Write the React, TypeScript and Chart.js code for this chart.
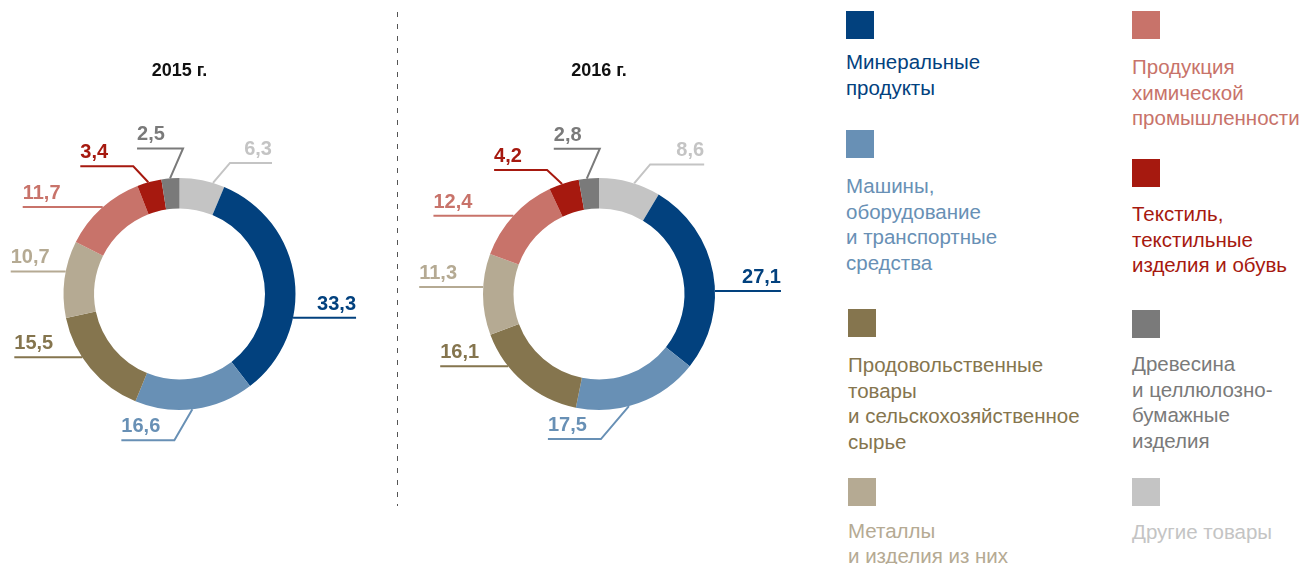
import React, { useEffect, useRef } from "react";
import { Chart, registerables } from "chart.js";

Chart.register(...registerables);

// ---------- DATA ----------
const categories = [
  "Другие товары",
  "Минеральные продукты",
  "Машины, оборудование и транспортные средства",
  "Продовольственные товары и сельскохозяйственное сырье",
  "Металлы и изделия из них",
  "Продукция химической промышленности",
  "Текстиль, текстильные изделия и обувь",
  "Древесина и целлюлозно-бумажные изделия",
];
const values2015 = [6.3, 33.3, 16.6, 15.5, 10.7, 11.7, 3.4, 2.5];
const values2016 = [8.6, 27.1, 17.5, 16.1, 11.3, 12.4, 4.2, 2.8];
const yearTitles = ["2015 г.", "2016 г."];
const legendLines = [
  ["Другие товары"],
  ["Минеральные", "продукты"],
  ["Машины,", "оборудование", "и транспортные", "средства"],
  ["Продовольственные", "товары", "и сельскохозяйственное", "сырье"],
  ["Металлы", "и изделия из них"],
  ["Продукция", "химической", "промышленности"],
  ["Текстиль,", "текстильные", "изделия и обувь"],
  ["Древесина", "и целлюлозно-", "бумажные", "изделия"],
];

// ---------- STYLE / LAYOUT ----------
const colors = [
  "#C4C4C4",
  "#02417E",
  "#6890B5",
  "#85754E",
  "#B5AA93",
  "#C8736A",
  "#A6190F",
  "#7A7A7A",
];
const FONT = '"Liberation Sans", Arial, Helvetica, sans-serif';
const H = 564;
const R = 116;
const CY = 294;
const TITLE_BASELINE = 76;

type LabelLayout = { frac: number; dx: number; dy: number; len: number; side: number };

const layout2015: LabelLayout[] = [
  { frac: 0.74, dx: 17, dy: -20, len: 42, side: 1 },
  { frac: 0.66, dx: 0, dy: 0, len: 63, side: 1 },
  { frac: 0.52, dx: -18, dy: 31, len: 53, side: -1 },
  { frac: 0.62, dx: 0, dy: 0, len: 68, side: -1 },
  { frac: 0.6, dx: 0, dy: 0, len: 55, side: -1 },
  { frac: 0.52, dx: 0, dy: 0, len: 80, side: -1 },
  { frac: 0.46, dx: -15, dy: -16, len: 53, side: -1 },
  { frac: 0.48, dx: 13, dy: -30, len: 46, side: -1 },
];
const layout2016: LabelLayout[] = [
  { frac: 0.57, dx: 16, dy: -19, len: 54, side: 1 },
  { frac: 0.59, dx: 0, dy: 0, len: 66, side: 1 },
  { frac: 0.58, dx: -28, dy: 33, len: 53, side: -1 },
  { frac: 0.69, dx: 0, dy: 0, len: 68, side: -1 },
  { frac: 0.59, dx: 0, dy: 0, len: 64, side: -1 },
  { frac: 0.5, dx: 0, dy: 0, len: 80, side: -1 },
  { frac: 0.44, dx: -15, dy: -14, len: 53, side: -1 },
  { frac: 0.4, dx: 13, dy: -30, len: 46, side: -1 },
];

// legend placement per category index
const legendPos = [
  { x: 1132, sq: 478, text: 518.6 },
  { x: 846, sq: 11, text: 49.3 },
  { x: 846, sq: 130, text: 173 },
  { x: 848, sq: 309, text: 352 },
  { x: 848, sq: 478, text: 517.6 },
  { x: 1132, sq: 11, text: 54.3 },
  { x: 1132, sq: 159, text: 201.3 },
  { x: 1132, sq: 310, text: 351.3 },
];

const fmt = (v: number) => v.toFixed(1).replace(".", ",");

function makePlugin(labels: LabelLayout[], title: string) {
  return {
    id: "leaderLabels",
    afterDatasetsDraw(chart: any) {
      const ctx = chart.ctx as CanvasRenderingContext2D;
      const meta = chart.getDatasetMeta(0);
      const data = chart.data.datasets[0].data as number[];
      ctx.save();
      meta.data.forEach((arc: any, i: number) => {
        const p = arc.getProps(["x", "y", "startAngle", "endAngle", "outerRadius"], true);
        const L = labels[i];
        const a = p.startAngle + L.frac * (p.endAngle - p.startAngle);
        const ax = p.x + Math.cos(a) * p.outerRadius;
        const ay = p.y + Math.sin(a) * p.outerRadius;
        const ex = ax + L.dx;
        const ey = ay + L.dy;
        const hx = ex + L.side * L.len;
        ctx.strokeStyle = colors[i];
        ctx.lineWidth = 2;
        ctx.lineCap = "butt";
        ctx.lineJoin = "miter";
        ctx.beginPath();
        ctx.moveTo(ax, ay);
        ctx.lineTo(ex, ey);
        ctx.lineTo(hx, ey);
        ctx.stroke();
        ctx.fillStyle = colors[i];
        ctx.font = `bold 20px ${FONT}`;
        ctx.textAlign = L.side > 0 ? "right" : "left";
        ctx.textBaseline = "alphabetic";
        ctx.fillText(fmt(data[i]), hx, ey - 8);
      });
      const first = meta.data[0];
      if (first) {
        ctx.fillStyle = "#111";
        ctx.font = `bold 18px ${FONT}`;
        ctx.textAlign = "center";
        ctx.fillText(title, first.x, TITLE_BASELINE);
      }
      ctx.restore();
    },
  };
}

function Donut(props: {
  values: number[];
  labels: LabelLayout[];
  title: string;
  left: number;
  width: number;
  cx: number;
}) {
  const ref = useRef<HTMLCanvasElement | null>(null);
  useEffect(() => {
    if (!ref.current) return;
    const { values, labels, title, width, cx } = props;
    const chart = new Chart(ref.current, {
      type: "doughnut",
      data: {
        labels: categories,
        datasets: [
          {
            data: values,
            backgroundColor: colors,
            borderWidth: 0,
            hoverOffset: 0,
          },
        ],
      },
      options: {
        animation: false,
        responsive: false,
        maintainAspectRatio: false,
        events: [],
        radius: R,
        cutout: "73.7%",
        rotation: 0,
        layout: {
          padding: {
            left: cx - R,
            right: width - cx - R,
            top: CY - R,
            bottom: H - CY - R,
          },
        },
        plugins: {
          legend: { display: false },
          tooltip: { enabled: false },
          title: { display: false },
        },
      } as any,
      plugins: [makePlugin(labels, title)],
    });
    return () => chart.destroy();
  }, []);
  return (
    <canvas
      ref={ref}
      width={props.width}
      height={H}
      style={{ position: "absolute", left: props.left, top: 0, width: props.width, height: H }}
    />
  );
}

export default function App() {
  return (
    <div
      style={{
        position: "absolute",
        left: 0,
        top: 0,
        width: 1304,
        height: H,
        overflow: "hidden",
        background: "#fff",
        fontFamily: FONT,
      }}
    >
      <Donut values={values2015} labels={layout2015} title={yearTitles[0]} left={0} width={398} cx={179.5} />
      <Donut values={values2016} labels={layout2016} title={yearTitles[1]} left={398} width={420} cx={201} />
      <div
        style={{
          position: "absolute",
          left: 397,
          top: 12,
          width: 1,
          height: 494,
          backgroundImage: "repeating-linear-gradient(to bottom, #555 0px, #555 5px, transparent 5px, transparent 12px)",
        }}
      />
      {legendLines.map((lines, i) => {
        const pos = legendPos[i];
        return (
          <React.Fragment key={i}>
            <div
              style={{
                position: "absolute",
                left: pos.x,
                top: pos.sq,
                width: 28,
                height: 28,
                background: colors[i],
              }}
            />
            <div
              style={{
                position: "absolute",
                left: pos.x,
                top: pos.text,
                fontSize: 20.5,
                lineHeight: "25.6px",
                color: colors[i],
                whiteSpace: "nowrap",
              }}
            >
              {lines.map((l, k) => (
                <div key={k}>{l}</div>
              ))}
            </div>
          </React.Fragment>
        );
      })}
    </div>
  );
}
